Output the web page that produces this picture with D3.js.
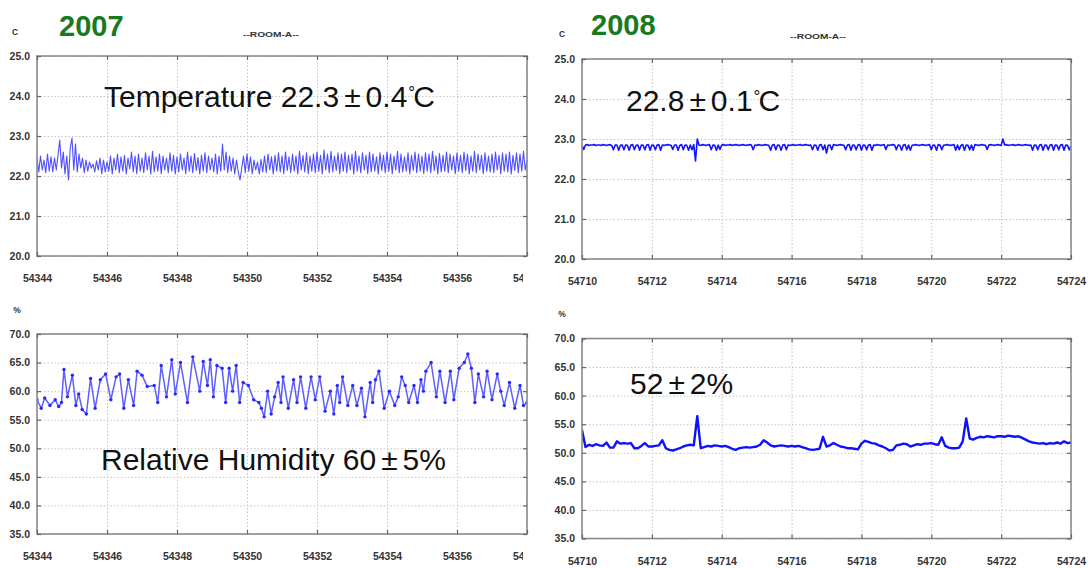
<!DOCTYPE html>
<html>
<head>
<meta charset="utf-8">
<script src="https://cdn.jsdelivr.net/npm/d3@7"></script>
<style>
  body { margin: 0; background: #fff; }
  svg { display: block; font-family: "Liberation Sans", Arial, sans-serif; }
</style>
</head>
<body>
<svg id="chart" width="1092" height="568"></svg>
<script>
// ---- tick values ----
const tempTicks = [20, 21, 22, 23, 24, 25];
const rhTicks = [35, 40, 45, 50, 55, 60, 65, 70];
const days2007 = [54344, 54346, 54348, 54350, 54352, 54354, 54356, 54358];
const days2008 = [54710, 54712, 54714, 54716, 54718, 54720, 54722, 54724];

// ---- 2007 temperature, one reading every 0.05 day from 54344 ----
const temp2007Start = 54344, temp2007Step = 0.05;
const temp2007 = [
  22.45,22.10,22.50,22.15,22.40,22.08,22.55,22.12,22.48,22.10,22.45,22.15,22.52,22.90,22.20,22.60,22.05,22.50,21.90,22.70,
  22.95,22.15,22.80,22.10,22.55,22.20,22.45,22.08,22.40,22.12,22.35,22.20,22.30,22.10,22.38,22.15,22.45,22.05,22.40,22.10,
  22.35,22.12,22.50,22.05,22.45,22.15,22.55,22.08,22.48,22.12,22.52,22.05,22.45,22.18,22.60,22.10,22.50,22.06,22.55,22.12,
  22.45,22.08,22.58,22.15,22.50,22.05,22.62,22.10,22.48,22.12,22.55,22.06,22.50,22.15,22.45,22.08,22.58,22.12,22.52,22.05,
  22.48,22.10,22.55,22.15,22.45,22.06,22.60,22.12,22.50,22.08,22.56,22.14,22.46,22.05,22.52,22.12,22.58,22.08,22.50,22.15,
  22.45,22.10,22.55,22.05,22.50,22.12,22.80,22.15,22.60,22.08,22.50,22.12,22.45,22.05,22.40,22.10,21.90,22.20,22.50,22.08,
  22.55,22.12,22.48,22.05,22.40,22.15,22.35,22.05,22.42,22.10,22.50,22.08,22.55,22.15,22.48,22.05,22.52,22.12,22.58,22.10,
  22.50,22.06,22.60,22.14,22.48,22.08,22.55,22.12,22.50,22.05,22.62,22.15,22.52,22.10,22.58,22.06,22.50,22.12,22.55,22.08,
  22.60,22.12,22.52,22.05,22.65,22.15,22.55,22.08,22.62,22.10,22.50,22.14,22.58,22.06,22.55,22.12,22.60,22.08,22.52,22.15,
  22.55,22.05,22.62,22.12,22.50,22.08,22.58,22.15,22.52,22.06,22.60,22.10,22.55,22.12,22.48,22.05,22.58,22.14,22.52,22.08,
  22.60,22.12,22.55,22.06,22.50,22.15,22.62,22.08,22.55,22.10,22.48,22.12,22.58,22.05,22.52,22.14,22.60,22.08,22.55,22.12,
  22.50,22.06,22.58,22.12,22.55,22.08,22.62,22.14,22.50,22.05,22.56,22.10,22.52,22.12,22.60,22.08,22.55,22.15,22.50,22.06,
  22.58,22.12,22.52,22.08,22.60,22.14,22.55,22.05,22.50,22.12,22.62,22.08,22.55,22.15,22.52,22.06,22.58,22.12,22.50,22.10,
  22.55,22.08,22.60,22.15,22.52,22.06,22.58,22.12,22.55,22.10,22.60,22.05,22.52,22.14,22.58,22.08,22.55,22.12,22.62,22.15,
  22.40
];

// ---- 2007 relative humidity, turning points (day, %) ----
const rh2007Days = [
  54344.00,54344.12,54344.22,54344.37,54344.52,54344.62,54344.70,54344.77,54344.87,54345.01,
  54345.11,54345.19,54345.29,54345.41,54345.53,54345.66,54345.81,54345.96,54346.11,54346.26,
  54346.36,54346.48,54346.61,54346.76,54346.86,54347.00,54347.15,54347.35,54347.45,54347.55,
  54347.70,54347.85,54347.95,54348.10,54348.30,54348.45,54348.65,54348.75,54348.87,54348.95,
  54349.04,54349.14,54349.29,54349.39,54349.49,54349.59,54349.69,54349.79,54349.89,54350.04,
  54350.19,54350.34,54350.41,54350.49,54350.59,54350.69,54350.79,54350.89,54350.97,54351.03,
  54351.18,54351.33,54351.43,54351.53,54351.68,54351.83,54351.95,54352.08,54352.23,54352.38,
  54352.48,54352.58,54352.65,54352.73,54352.88,54353.02,54353.14,54353.27,54353.37,54353.52,
  54353.59,54353.67,54353.77,54353.92,54354.07,54354.22,54354.32,54354.42,54354.52,54354.62,
  54354.77,54354.87,54354.97,54355.04,54355.11,54355.26,54355.41,54355.51,54355.66,54355.81,
  54355.91,54356.06,54356.21,54356.31,54356.41,54356.51,54356.61,54356.76,54356.86,54357.00,
  54357.15,54357.25,54357.35,54357.50,54357.65,54357.80,54357.90,54358.00
];
const rh2007 = [
  58.5,57.0,58.8,57.5,58.5,57.3,58.0,63.8,59.0,62.8,
  57.5,59.5,56.8,56.0,62.2,57.0,62.0,63.0,58.5,62.5,
  63.0,57.0,62.0,57.5,63.5,62.8,60.8,61.0,58.0,64.5,
  59.0,65.5,59.5,65.0,58.0,66.0,60.0,65.2,61.0,65.5,
  59.0,64.5,64.0,58.0,64.0,60.0,64.5,58.0,61.5,61.0,
  58.5,58.0,57.0,55.5,60.0,56.0,59.0,61.5,58.0,62.5,
  57.0,62.0,58.0,62.5,57.0,62.5,58.5,62.5,56.5,60.0,
  56.0,61.0,58.0,62.5,57.5,61.0,57.5,60.5,55.5,61.5,
  58.0,62.0,63.5,57.0,60.0,57.5,59.0,62.5,61.0,58.0,
  61.0,58.0,62.0,60.0,63.5,65.0,59.0,63.5,58.0,63.5,
  58.5,64.0,65.0,66.5,64.0,58.0,63.0,59.0,63.5,58.5,
  63.0,60.0,57.5,61.5,57.0,61.0,57.5,58.0
];

// ---- 2008 temperature, one reading every 0.05 day from 54710 ----
const temp2008Start = 54710, temp2008Step = 0.05;
const temp2008 = [
  22.84,22.74,22.85,22.86,22.84,22.85,22.85,22.86,22.84,22.85,22.85,22.84,22.86,22.85,22.84,22.85,22.86,22.84,22.73,22.85,
  22.85,22.72,22.84,22.85,22.73,22.85,22.84,22.72,22.85,22.86,22.73,22.84,22.85,22.72,22.85,22.84,22.73,22.85,22.86,22.72,
  22.85,22.84,22.73,22.85,22.86,22.72,22.85,22.84,22.85,22.86,22.85,22.84,22.74,22.85,22.85,22.72,22.84,22.86,22.73,22.85,
  22.84,22.72,22.85,22.73,22.86,22.45,23.00,22.85,22.84,22.86,22.85,22.84,22.85,22.86,22.73,22.85,22.84,22.72,22.85,22.74,
  22.85,22.86,22.84,22.85,22.85,22.86,22.84,22.85,22.86,22.85,22.84,22.85,22.86,22.85,22.84,22.85,22.86,22.85,22.73,22.85,
  22.84,22.86,22.85,22.84,22.85,22.86,22.85,22.84,22.72,22.85,22.86,22.73,22.85,22.84,22.72,22.85,22.86,22.73,22.85,22.84,
  22.85,22.86,22.84,22.85,22.85,22.86,22.84,22.85,22.86,22.85,22.84,22.85,22.73,22.85,22.84,22.72,22.85,22.86,22.73,22.85,
  22.65,22.84,22.85,22.73,22.86,22.85,22.84,22.85,22.86,22.85,22.84,22.73,22.85,22.86,22.72,22.85,22.84,22.73,22.85,22.86,
  22.72,22.85,22.84,22.73,22.85,22.86,22.72,22.85,22.84,22.86,22.85,22.84,22.85,22.86,22.74,22.85,22.84,22.85,22.86,22.85,
  22.73,22.85,22.84,22.72,22.85,22.86,22.73,22.85,22.72,22.84,22.85,22.86,22.85,22.84,22.85,22.86,22.85,22.84,22.85,22.86,
  22.73,22.85,22.84,22.72,22.86,22.85,22.73,22.84,22.85,22.86,22.85,22.84,22.85,22.86,22.72,22.85,22.73,22.84,22.86,22.72,
  22.85,22.84,22.73,22.85,22.72,22.86,22.85,22.84,22.85,22.86,22.85,22.84,22.74,22.85,22.86,22.85,22.84,22.85,22.86,22.85,
  22.84,23.00,22.85,22.86,22.84,22.85,22.85,22.86,22.84,22.85,22.86,22.85,22.84,22.85,22.86,22.85,22.84,22.85,22.72,22.85,
  22.84,22.73,22.85,22.86,22.72,22.85,22.84,22.73,22.85,22.86,22.72,22.85,22.84,22.73,22.85,22.86,22.72,22.85,22.84,22.73,
  22.82
];

// ---- 2008 relative humidity, one reading every 0.1 day from 54710 ----
const rh2008Start = 54710, rh2008Step = 0.1;
const rh2008 = [
  54.0,51.0,51.4,51.2,51.5,51.3,51.2,51.8,50.9,50.9,
  52.0,51.6,51.7,51.6,51.7,50.8,50.8,51.2,51.7,51.1,
  51.1,51.2,51.3,52.2,50.8,50.5,50.4,50.6,50.8,51.1,
  51.3,51.4,51.3,56.4,50.8,51.0,51.2,51.1,51.3,51.2,
  51.1,51.2,51.0,50.7,50.5,50.8,50.9,51.0,50.9,51.0,
  51.1,51.4,52.2,51.8,51.3,51.1,51.2,51.3,51.2,51.1,
  51.2,51.1,51.2,51.0,50.8,50.6,50.5,50.6,50.7,52.8,
  51.1,51.3,51.7,51.4,51.1,51.0,50.8,50.8,50.7,50.6,
  51.6,52.1,51.9,51.7,51.6,51.3,51.1,50.8,50.4,50.5,
  51.3,51.4,51.6,51.5,51.1,51.3,51.5,51.4,51.6,51.6,
  51.7,51.5,51.4,52.7,51.2,50.9,50.8,50.8,50.9,52.0,
  56.0,52.5,52.3,52.6,52.8,52.7,52.9,52.8,52.7,52.9,
  52.9,52.8,53.0,52.9,52.8,52.9,52.6,52.3,52.0,51.8,
  51.7,51.6,51.7,51.5,51.7,51.6,51.8,51.6,52.0,51.7,
  51.8
];

// ---- build (day, value) pairs ----
const evenly = (start, step, vals) => vals.map((v, i) => [start + i * step, v]);
const paired = (days, vals) => vals.map((v, i) => [days[i], v]);

const svg = d3.select("#chart");
const FONT = '"Liberation Sans", Arial, sans-serif';

function drawPanel(cfg) {
  const g = svg.append("g");
  const x = d3.scaleLinear().domain(cfg.xDomain).range([cfg.left, cfg.right]);
  const y = d3.scaleLinear().domain(cfg.yDomain).range([cfg.bottom, cfg.top]);
  const w = cfg.right - cfg.left, h = cfg.bottom - cfg.top;

  g.append("rect")
    .attr("x", cfg.left).attr("y", cfg.top).attr("width", w).attr("height", h)
    .attr("fill", "#fff");

  // dotted grid
  const gridY = g.append("g").attr("transform", `translate(${cfg.left},0)`)
    .call(d3.axisLeft(y).tickValues(cfg.yTicks).tickSize(-w).tickFormat(""));
  const gridX = g.append("g").attr("transform", `translate(0,${cfg.bottom})`)
    .call(d3.axisBottom(x).tickValues(cfg.xTicks).tickSize(-h).tickFormat(""));
  [gridY, gridX].forEach(a => {
    a.select(".domain").remove();
    a.selectAll("line").attr("stroke", "#c4c4c4").attr("stroke-width", 1)
      .attr("stroke-dasharray", "1.5,2");
  });

  // data
  const clipId = "clip-" + cfg.id;
  g.append("clipPath").attr("id", clipId).append("rect")
    .attr("x", cfg.left).attr("y", cfg.top).attr("width", w).attr("height", h);
  const line = d3.line().x(d => x(d[0])).y(d => y(d[1]));
  const series = g.append("g").attr("clip-path", `url(#${clipId})`);
  series.append("path").datum(cfg.data)
    .attr("d", line).attr("fill", "none")
    .attr("stroke", cfg.color).attr("stroke-width", cfg.width)
    .attr("stroke-linejoin", "round").attr("stroke-opacity", cfg.opacity || 1);
  if (cfg.dots) {
    series.selectAll("circle").data(cfg.data).join("circle")
      .attr("cx", d => x(d[0])).attr("cy", d => y(d[1]))
      .attr("r", 1.7).attr("fill", "#2a2aff");
  }

  // frame
  g.append("rect")
    .attr("x", cfg.left).attr("y", cfg.top).attr("width", w).attr("height", h)
    .attr("fill", "none").attr("stroke", "#8c8c8c").attr("stroke-width", 1.6);

  // short inward ticks on all four sides
  const tk = [
    [d3.axisBottom(x).tickValues(cfg.xTicks), `translate(0,${cfg.bottom})`],
    [d3.axisTop(x).tickValues(cfg.xTicks), `translate(0,${cfg.top})`],
    [d3.axisLeft(y).tickValues(cfg.yTicks), `translate(${cfg.left},0)`],
    [d3.axisRight(y).tickValues(cfg.yTicks), `translate(${cfg.right},0)`]
  ];
  tk.forEach(([ax, tr]) => {
    const a = g.append("g").attr("transform", tr).call(ax.tickSize(-4).tickFormat(""));
    a.select(".domain").remove();
    a.selectAll("line").attr("stroke", "#666").attr("stroke-width", 1.2);
  });

  // tick labels
  const yl = g.append("g").attr("transform", `translate(${cfg.left},0)`)
    .call(d3.axisLeft(y).tickValues(cfg.yTicks).tickSize(0).tickPadding(7)
      .tickFormat(d3.format(".1f")));
  yl.select(".domain").remove();
  yl.selectAll("text").attr("font-family", FONT)
    .attr("font-size", 10.5).attr("font-weight", "bold").attr("fill", "#333");

  // x labels sit in a wrapper so an optional clip can be given in page coordinates
  const xWrap = g.append("g");
  if (cfg.labelClip) {
    const lc = "lclip-" + cfg.id;
    g.append("clipPath").attr("id", lc).append("rect")
      .attr("x", 0).attr("y", cfg.bottom).attr("width", cfg.labelClip).attr("height", 40);
    xWrap.attr("clip-path", `url(#${lc})`);
  }
  const xl = xWrap.append("g").attr("transform", `translate(0,${cfg.bottom})`)
    .call(d3.axisBottom(x).tickValues(cfg.xTicks).tickSize(0).tickPadding(19)
      .tickFormat(d3.format("d")));
  xl.select(".domain").remove();
  xl.selectAll("text").attr("font-family", FONT)
    .attr("font-size", 10.5).attr("font-weight", "bold").attr("fill", "#333");

  // unit
  g.append("text").attr("x", cfg.unitX).attr("y", cfg.unitY)
    .attr("text-anchor", "middle").attr("font-size", 8.5).attr("font-weight", "bold")
    .attr("fill", "#333").text(cfg.unit);

  // annotation: value, ±, value and an optional compact degree sign + unit
  const t = g.append("text").attr("x", cfg.noteX).attr("y", cfg.noteY)
    .attr("font-family", FONT).attr("font-size", 30).attr("fill", "#111");
  t.append("tspan").text(cfg.note[0]);
  t.append("tspan").attr("dx", 5).text("\u00b1");
  t.append("tspan").attr("dx", 5).text(cfg.note[1]);
  if (cfg.degree) {
    t.append("tspan").attr("dx", 1).attr("dy", -9).attr("font-size", 17).text("\u00b0");
    t.append("tspan").attr("dx", -2).attr("dy", 9).text("C");
  }
}

// header titles
function header(year, yx, yy, rx, ry) {
  svg.append("text").attr("x", yx).attr("y", yy)
    .attr("font-size", 29).attr("font-weight", "bold").attr("fill", "#187a1c").text(year);
  svg.append("text").attr("x", rx).attr("y", ry).attr("text-anchor", "middle")
    .attr("font-size", 8).attr("font-weight", "bold").attr("fill", "#333")
    .attr("textLength", 56).attr("lengthAdjust", "spacingAndGlyphs")
    .text("--ROOM-A--");
}
header("2007", 59, 36, 271, 37);
header("2008", 591, 35, 818, 39);

drawPanel({
  id: "t07", left: 37, right: 527, top: 56, bottom: 256,
  xDomain: [54344, 54358], yDomain: [20, 25], xTicks: days2007, yTicks: tempTicks,
  data: evenly(temp2007Start, temp2007Step, temp2007),
  color: "#3c3cff", width: 1.1, opacity: 0.9, labelClip: 523,
  unit: "C", unitX: 15, unitY: 35,
  note: ["Temperature 22.3", "0.4"], degree: true, noteX: 104, noteY: 107
});
drawPanel({
  id: "t08", left: 582, right: 1071, top: 59, bottom: 259,
  xDomain: [54710, 54724], yDomain: [20, 25], xTicks: days2008, yTicks: tempTicks,
  data: evenly(temp2008Start, temp2008Step, temp2008),
  color: "#1414ff", width: 1.6,
  unit: "C", unitX: 562, unitY: 37,
  note: ["22.8", "0.1"], degree: true, noteX: 626, noteY: 111
});
drawPanel({
  id: "h07", left: 37, right: 527, top: 334, bottom: 534,
  xDomain: [54344, 54358], yDomain: [35, 70], xTicks: days2007, yTicks: rhTicks,
  data: paired(rh2007Days, rh2007),
  color: "#5f5fff", width: 1.5, dots: true, labelClip: 523,
  unit: "%", unitX: 17, unitY: 313,
  note: ["Relative Humidity 60", "5%"], noteX: 101, noteY: 470
});
drawPanel({
  id: "h08", left: 582, right: 1071, top: 338.5, bottom: 538.5,
  xDomain: [54710, 54724], yDomain: [35, 70], xTicks: days2008, yTicks: rhTicks,
  data: evenly(rh2008Start, rh2008Step, rh2008),
  color: "#1010ff", width: 2.4,
  unit: "%", unitX: 562, unitY: 317,
  note: ["52", "2%"], noteX: 630, noteY: 394
});
</script>
</body>
</html>
